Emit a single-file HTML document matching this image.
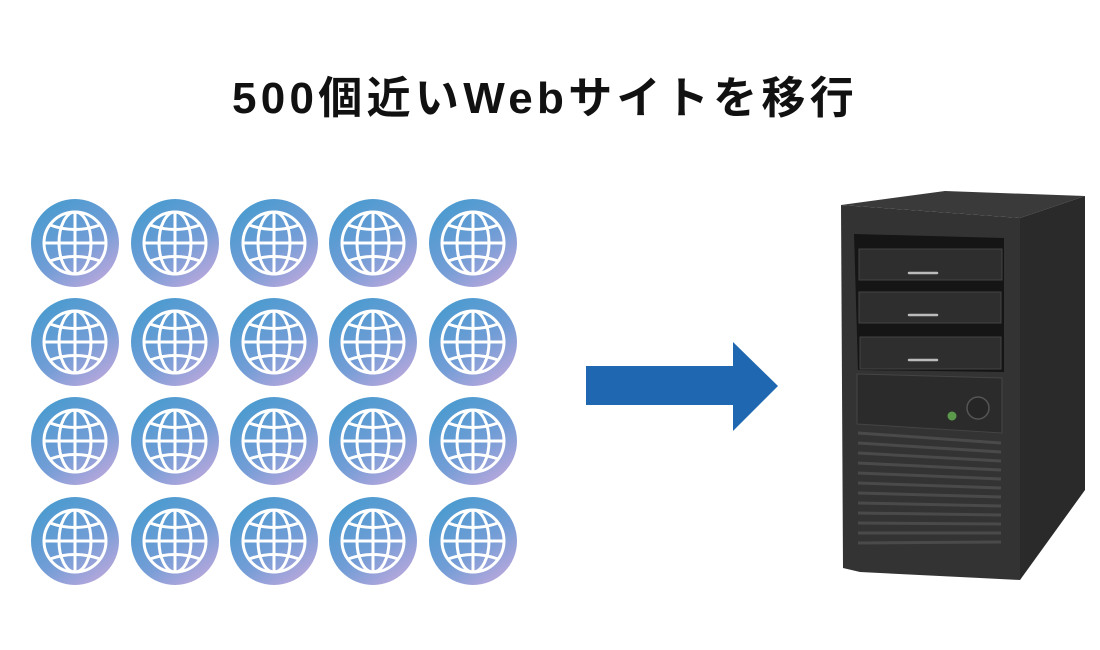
<!DOCTYPE html>
<html><head><meta charset="utf-8"><style>
html,body{margin:0;padding:0;background:#fff;width:1100px;height:650px;overflow:hidden}
.t{position:absolute;left:0;width:1090px;top:62px;text-align:center;font:bold 44px "Liberation Sans","Noto Sans CJK JP",sans-serif;color:#111;letter-spacing:4.3px}
</style></head><body>
<div class="t">500個近いWebサイトを移行</div>
<svg width="1100" height="650" style="position:absolute;left:0;top:0">
<defs>
<linearGradient id="g" x1="0.2" y1="0.1" x2="0.8" y2="0.95">
<stop offset="0" stop-color="#4c9bd0"/><stop offset="0.55" stop-color="#729dd6"/><stop offset="1" stop-color="#b6a7dc"/>
</linearGradient>
<g id="gl">
<circle r="44" fill="url(#g)"/>
<g fill="none" stroke="#fff" stroke-width="3">
<circle r="31"/>
<ellipse rx="16" ry="31"/>
<line x1="0" y1="-31" x2="0" y2="31"/>
<line x1="-31" y1="0" x2="31" y2="0"/>
<path d="M-25,-18 Q0,-9 25,-18"/>
<path d="M-25,18 Q0,9 25,18"/>
</g></g>
</defs>
<g>
<use href="#gl" x="75" y="243"/><use href="#gl" x="175" y="243"/><use href="#gl" x="274" y="243"/><use href="#gl" x="373" y="243"/><use href="#gl" x="473" y="243"/>
<use href="#gl" x="75" y="342"/><use href="#gl" x="175" y="342"/><use href="#gl" x="274" y="342"/><use href="#gl" x="373" y="342"/><use href="#gl" x="473" y="342"/>
<use href="#gl" x="75" y="441"/><use href="#gl" x="175" y="441"/><use href="#gl" x="274" y="441"/><use href="#gl" x="373" y="441"/><use href="#gl" x="473" y="441"/>
<use href="#gl" x="75" y="541"/><use href="#gl" x="175" y="541"/><use href="#gl" x="274" y="541"/><use href="#gl" x="373" y="541"/><use href="#gl" x="473" y="541"/>
</g>
<polygon points="586,366 733,366 733,342 778,386 733,431 733,405 586,405" fill="#1f67b1"/>
<polygon points="841,205 945,191 1085,196 1020,218" fill="#3a3a3a"/>
<polygon points="1020,218 1085,196 1085,490 1020,580" fill="#2a2a2a"/>
<polygon points="841,205 1020,218 1020,580 980,578 860,572 843,568" fill="#333"/>
<polygon points="854,234 1004,238 1004,372 858,370" fill="#151515"/>
<rect x="859" y="249" width="143" height="31" fill="#2e2e2e" stroke="#444"/>
<rect x="859" y="292" width="142" height="31" fill="#2e2e2e" stroke="#444"/>
<rect x="860" y="337" width="141" height="32" fill="#2e2e2e" stroke="#444"/>
<g stroke="#bbb" stroke-width="2.5" stroke-linecap="round">
<line x1="909" y1="273" x2="937" y2="273"/><line x1="909" y1="315" x2="937" y2="315"/><line x1="909" y1="360" x2="937" y2="360"/>
</g>
<polygon points="857,374 1002,378 1002,433 857,424" fill="#2b2b2b" stroke="#444"/>
<circle cx="952" cy="416" r="4.5" fill="#5a9a4a"/>
<circle cx="978" cy="408" r="11" fill="#262626" stroke="#555" stroke-width="1.5"/>
<g stroke="#4a4a4a" stroke-width="3">
<line x1="858" y1="433" x2="1001" y2="443"/><line x1="858" y1="443" x2="1001" y2="452"/><line x1="858" y1="453" x2="1001" y2="461"/><line x1="858" y1="463" x2="1001" y2="470"/><line x1="858" y1="473" x2="1001" y2="479"/><line x1="858" y1="483" x2="1001" y2="488"/><line x1="858" y1="493" x2="1001" y2="497"/><line x1="858" y1="503" x2="1001" y2="506"/><line x1="858" y1="513" x2="1001" y2="515"/><line x1="858" y1="523" x2="1001" y2="524"/><line x1="858" y1="533" x2="1001" y2="533"/><line x1="858" y1="543" x2="1001" y2="542"/>
</g>
</svg>
</body></html>
